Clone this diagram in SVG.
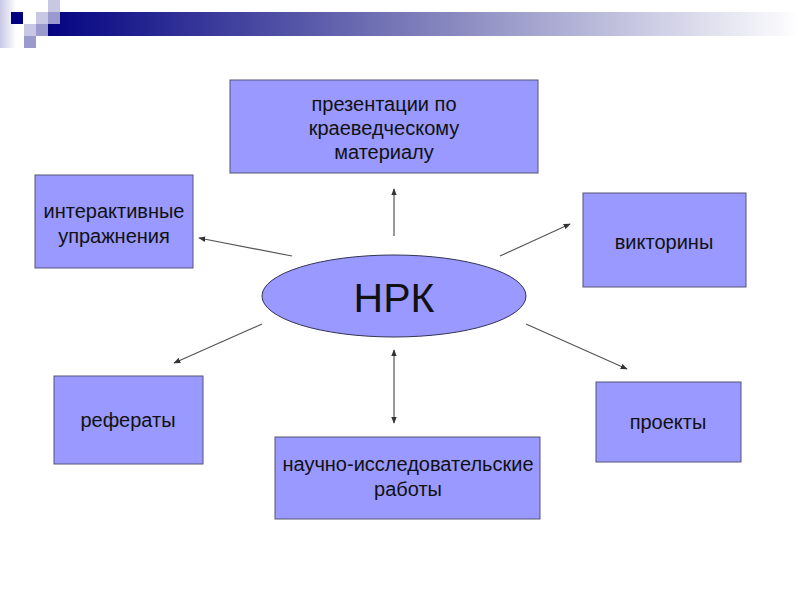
<svg xmlns="http://www.w3.org/2000/svg" width="800" height="600" viewBox="0 0 800 600">
<defs>
<linearGradient id="bar" x1="0" y1="0" x2="1" y2="0">
<stop offset="0" stop-color="#000080"/>
<stop offset="0.5" stop-color="#7d7dba"/>
<stop offset="1" stop-color="#ffffff"/>
</linearGradient>
<linearGradient id="edge" x1="0" y1="0" x2="1" y2="0">
<stop offset="0" stop-color="#c8c8e4"/>
<stop offset="1" stop-color="#ffffff"/>
</linearGradient>
<marker id="ah" viewBox="0 0 10 10" refX="9" refY="5" markerWidth="7" markerHeight="7" orient="auto-start-reverse" markerUnits="userSpaceOnUse">
<path d="M0,1 L10,5 L0,9 z" fill="#333"/>
</marker>
<style>
.box{fill:#9999ff;stroke:#555577;stroke-width:1}
.t{font-family:"Liberation Sans",Arial,sans-serif;font-size:20px;fill:#111;text-anchor:middle}
.c{stroke:#555;stroke-width:1.2;fill:none;marker-end:url(#ah)}
</style>
</defs>
<rect width="800" height="600" fill="#fff"/>
<g id="header">
<rect x="0" y="0" width="16" height="48" fill="url(#edge)"/>
<rect x="36" y="12" width="764" height="24" fill="url(#bar)"/>
<rect x="11" y="12" width="12" height="12" fill="#000080"/>
<rect x="48" y="0" width="12" height="12" fill="#c8c8e4"/>
<rect x="36" y="12" width="12" height="12" fill="#c8c8e4"/>
<rect x="48" y="12" width="12" height="12" fill="#9a9acc"/>
<rect x="24" y="24" width="12" height="12" fill="#c8c8e4"/>
<rect x="36" y="24" width="12" height="12" fill="#9a9acc"/>
<rect x="24" y="36" width="12" height="12" fill="#9a9acc"/>
</g>
<g id="connectors">
<line class="c" x1="394" y1="236" x2="394" y2="189"/>
<line class="c" x1="292" y1="256" x2="199" y2="238"/>
<line class="c" x1="500" y1="256" x2="570" y2="224"/>
<line class="c" x1="262" y1="324" x2="174" y2="363"/>
<line class="c" x1="394" y1="350" x2="394" y2="423" style="marker-start:url(#ah)"/>
<line class="c" x1="526" y1="324" x2="627" y2="369"/>
</g>
<g id="center">
<ellipse cx="394" cy="296" rx="132" ry="41" fill="#9999ff" stroke="#333355" stroke-width="1"/>
<text class="t" x="394" y="312" style="font-size:41px">НРК</text>
</g>
<g id="n-top">
<rect class="box" x="230" y="80" width="308" height="93"/>
<text class="t" x="384" y="111">презентации по</text>
<text class="t" x="384" y="135">краеведческому</text>
<text class="t" x="384" y="159">материалу</text>
</g>
<g id="n-left">
<rect class="box" x="35" y="175" width="158" height="93"/>
<text class="t" x="114" y="218">интерактивные</text>
<text class="t" x="114" y="243">упражнения</text>
</g>
<g id="n-right">
<rect class="box" x="583" y="193" width="163" height="94"/>
<text class="t" x="664" y="249">викторины</text>
</g>
<g id="n-bl">
<rect class="box" x="54" y="376" width="149" height="88"/>
<text class="t" x="128" y="427">рефераты</text>
</g>
<g id="n-bottom">
<rect class="box" x="275" y="437" width="265" height="82"/>
<text class="t" x="408" y="471">научно-исследовательские</text>
<text class="t" x="408" y="496">работы</text>
</g>
<g id="n-br">
<rect class="box" x="596" y="382" width="145" height="80"/>
<text class="t" x="668" y="429">проекты</text>
</g>
</svg>
